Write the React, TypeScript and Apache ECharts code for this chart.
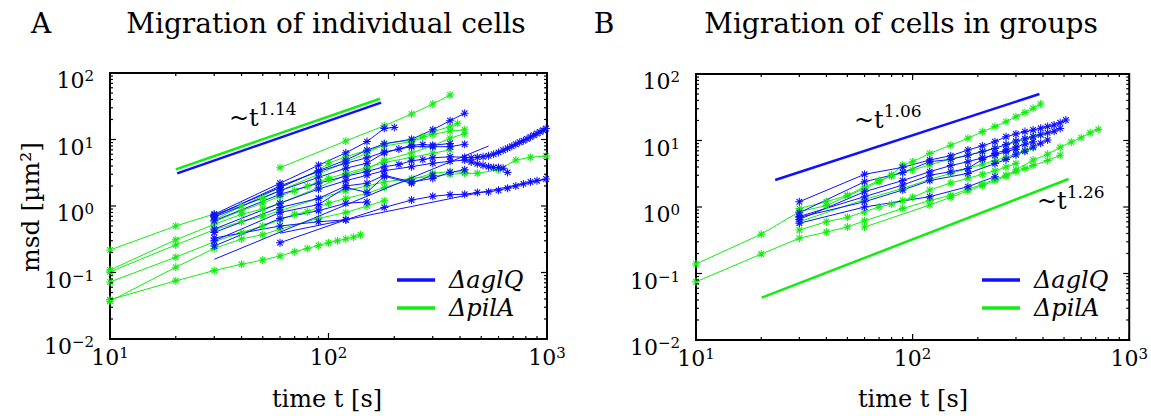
import React, { useEffect, useRef } from 'react';
import * as echarts from 'echarts';

// ---------- Panel A: migration of individual cells ----------
const A_AGLQ_1 = [[30, 0.75], [60, 2.2], [90, 4.1], [120, 6.3], [150, 9.3], [180, 14.7], [200, 15.2]];
const A_AGLQ_2 = [[30, 0.72], [60, 1.9], [90, 3.4], [120, 4.9], [150, 6.9], [180, 8.6], [240, 10.1], [300, 14.0], [360, 19.2], [420, 24.8]];
const A_AGLQ_3 = [[30, 0.68], [60, 1.7], [90, 2.7], [120, 3.7], [150, 4.4], [180, 6.3], [210, 7.2], [240, 8.2], [270, 8.4], [300, 8.2], [360, 8.7]];
const A_AGLQ_4 = [[30, 0.6], [60, 1.5], [90, 2.2], [120, 2.8], [150, 3.3], [180, 3.9], [210, 4.2], [240, 4.8], [270, 5.0], [300, 5.3], [360, 5.5], [420, 5.4], [450, 5.3], [480, 5.4], [510, 5.5], [540, 5.7], [570, 6.0], [600, 6.4], [630, 6.9], [660, 7.4], [690, 7.9], [720, 8.5], [750, 9.1], [780, 9.6], [810, 10.2], [840, 10.9], [870, 11.6], [900, 12.3], [930, 13.0], [960, 13.8], [990, 14.6]];
const A_AGLQ_5 = [[30, 0.45], [60, 1.1], [90, 1.8], [120, 2.4], [150, 2.9], [180, 3.4], [240, 3.9], [300, 4.4], [360, 4.7], [420, 4.9], [450, 4.6], [480, 4.3], [510, 4.1], [540, 3.9], [570, 3.8], [600, 3.8], [630, 3.7], [660, 3.2]];
const A_AGLQ_6 = [[60, 0.28], [120, 0.62], [180, 0.95], [240, 1.23], [300, 1.4], [360, 1.48], [420, 1.5], [480, 1.6], [540, 1.63], [600, 1.72], [660, 1.85], [720, 2.0], [780, 2.15], [840, 2.3], [900, 2.4], [990, 2.55]];
const A_AGLQ_7 = [[30, 0.4], [60, 0.95], [90, 1.3], [120, 2.0], [150, 2.2], [180, 2.9], [240, 2.3], [300, 2.6], [360, 3.2], [420, 3.5]];
const A_AGLQ_8 = [[30, 0.3], [60, 0.8], [90, 1.05], [120, 1.9], [150, 1.6], [180, 2.8], [240, 2.2], [300, 2.9]];
const A_AGLQ_9 = [[30, 0.25], [60, 0.65], [90, 0.85], [120, 1.1], [150, 1.15]];
const A_AGLQ_10 = [[30, 0.33], [60, 0.5], [90, 0.58], [120, 0.62]];
const A_AGLQ_11 = [[30, 0.7], [60, 2.0], [90, 3.3], [120, 4.4], [150, 5.3], [180, 6.5], [240, 7.8], [300, 7.8], [360, 7.8], [420, 8.5]];
const A_AGLQ_FIT_1 = [[30, 0.158], [540, 7.98]];
const A_AGLQ_FIT_2 = [[60, 0.39], [1000, 2.55]];

const A_PILA_1 = [[60, 3.77], [120, 9.5], [180, 16.1], [240, 24.2], [300, 34.2], [360, 46.7]];
const A_PILA_2 = [[10, 0.039], [20, 0.075], [30, 0.107], [40, 0.133], [50, 0.154], [60, 0.177], [70, 0.206], [80, 0.23], [90, 0.255], [100, 0.28], [110, 0.3], [120, 0.32], [130, 0.34], [140, 0.37]];
const A_PILA_3 = [[10, 0.218], [20, 0.5], [30, 0.76], [40, 1.0], [50, 1.3], [60, 1.7], [90, 3.0], [120, 4.6], [150, 6.2], [180, 8.7], [240, 9.8], [270, 11.0], [300, 13.1], [360, 15.6], [390, 17.5]];
const A_PILA_4 = [[10, 0.109], [20, 0.31], [30, 0.53], [40, 0.75], [50, 0.9], [60, 1.1], [90, 1.9], [120, 2.9], [150, 3.6], [180, 4.9], [240, 6.3], [300, 8.0], [360, 10.5], [420, 12.2]];
const A_PILA_5 = [[10, 0.102], [20, 0.26], [30, 0.44], [40, 0.58], [50, 0.7], [60, 0.85], [90, 1.3], [120, 1.7], [150, 2.0], [180, 2.3], [240, 2.6], [300, 2.8], [360, 3.0], [420, 3.1], [480, 3.1], [600, 3.5], [720, 4.9], [840, 5.4], [990, 5.65]];
const A_PILA_6 = [[10, 0.072], [20, 0.17], [30, 0.29], [40, 0.4], [50, 0.5], [60, 0.62], [70, 0.75], [80, 0.82], [90, 0.95], [100, 1.1], [120, 1.3], [150, 1.55], [180, 1.9], [240, 2.5], [300, 3.1], [360, 3.3], [420, 3.2]];
const A_PILA_7 = [[10, 0.037], [20, 0.12], [30, 0.23], [40, 0.32], [50, 0.37], [60, 0.45], [90, 0.65], [120, 0.8], [150, 1.0], [180, 1.2]];
const A_PILA_8 = [[30, 0.58], [40, 0.85], [50, 1.1], [60, 1.4], [70, 1.7], [80, 2.0], [90, 2.3], [100, 2.6], [120, 3.1], [150, 3.8], [180, 4.5], [240, 5.4], [300, 6.2], [360, 7.0]];
const A_PILA_9 = [[30, 0.62], [60, 1.9], [90, 3.4], [100, 4.4], [120, 5.5], [150, 6.9], [180, 8.0], [240, 9.3], [300, 11.9], [360, 13.4], [420, 14.0]];

const A_GUIDE_AGLQ = [[20.3, 3.1], [174, 35.8]];
const A_GUIDE_PILA = [[20, 3.56], [172, 41]];

// ---------- Panel B: migration of cells in groups ----------
const B_AGLQ_1 = [[30, 1.2], [60, 3.1], [90, 3.95], [120, 5.1], [150, 5.9], [180, 7.2], [210, 8.3], [240, 9.6], [270, 11.4], [300, 12.5], [330, 13.6], [360, 14.4], [390, 15.3], [420, 16.2], [450, 17.1], [480, 18.5], [510, 20.3]];
const B_AGLQ_2 = [[30, 0.82], [60, 2.4], [90, 3.3], [120, 4.8], [150, 5.2], [180, 6.0], [210, 6.8], [240, 7.6], [270, 8.7], [300, 9.8], [330, 10.6], [360, 11.4], [390, 12.2], [420, 13.0], [450, 13.8], [480, 15.2]];
const B_AGLQ_3 = [[30, 0.72], [60, 1.43], [90, 2.14], [120, 3.0], [150, 3.4], [180, 3.8], [210, 5.2], [240, 6.4], [270, 7.2], [300, 8.0], [330, 8.8], [360, 9.6]];
const B_AGLQ_4 = [[30, 0.57], [60, 1.0], [120, 1.43], [180, 2.02], [240, 2.86]];
const B_AGLQ_5 = [[30, 0.65], [60, 1.7], [90, 2.5], [120, 3.4], [150, 4.2], [180, 4.8], [210, 5.5], [240, 6.0], [270, 6.8], [300, 7.4]];
const B_AGLQ_6 = [[30, 0.7], [60, 1.2], [90, 1.8], [120, 2.5], [180, 3.2], [240, 4.5], [270, 5.2], [300, 6.1], [330, 6.9], [360, 8.0], [390, 9.1], [420, 10.2]];

const B_PILA_1 = [[10, 0.139], [20, 0.39], [30, 0.85], [40, 1.05], [50, 1.46], [60, 1.9], [70, 2.4], [80, 3.05], [90, 4.3], [100, 4.8], [120, 6.4], [150, 8.5], [180, 10.8], [210, 13.6], [240, 16.2], [270, 19.2], [300, 22.8], [330, 26.3], [360, 30.6], [390, 35.4]];
const B_PILA_2 = [[10, 0.075], [20, 0.196], [30, 0.34], [40, 0.42], [50, 0.5], [60, 0.62], [90, 0.95], [120, 1.25], [150, 1.5], [180, 1.85], [210, 2.2], [240, 2.6], [270, 3.0], [300, 3.6], [360, 5.1], [420, 6.2], [480, 7.9], [540, 9.5], [600, 11.0], [660, 13.1], [720, 14.7]];
const B_PILA_3 = [[60, 0.5], [120, 1.07], [150, 1.4], [180, 1.75], [210, 2.1], [240, 2.5], [270, 2.9], [300, 3.4], [330, 3.8], [360, 4.2], [420, 5.0], [480, 6.0]];
const B_PILA_4 = [[30, 0.95], [40, 1.2], [50, 1.5], [60, 2.0], [70, 2.5], [80, 2.9], [90, 3.3], [100, 3.6], [120, 4.3], [150, 5.3], [180, 6.0], [210, 6.8], [240, 7.7], [270, 8.6], [300, 9.5], [330, 10.4], [360, 11.4], [390, 12.3]];
const B_PILA_5 = [[30, 0.45], [40, 0.6], [50, 0.7], [60, 0.85], [70, 1.0], [80, 1.1], [90, 1.25], [100, 1.4], [120, 1.8], [150, 2.3], [180, 2.7], [210, 3.1], [240, 3.5], [270, 4.0], [300, 4.5]];
const B_PILA_6 = [[30, 0.6], [60, 1.3], [90, 1.9], [120, 2.6], [150, 3.2], [180, 3.8], [210, 4.4], [240, 5.0], [270, 5.6], [300, 6.3], [330, 7.1], [360, 7.8]];

const B_GUIDE_AGLQ = [[23.2, 2.55], [385, 50]];
const B_GUIDE_PILA = [[20.1, 0.0433], [525, 2.64]];

// ---------- Axes ----------
const X_RANGE = [10, 1000];
const Y_RANGE = [0.01, 100];
const X_MAJOR = [10, 100, 1000];
const X_MINOR = [20, 30, 40, 50, 60, 70, 80, 90, 200, 300, 400, 500, 600, 700, 800, 900];
const Y_MAJOR = [0.01, 0.1, 1, 10, 100];
const Y_MINOR = [0.02, 0.03, 0.04, 0.05, 0.06, 0.07, 0.08, 0.09, 0.2, 0.3, 0.4, 0.5, 0.6, 0.7, 0.8, 0.9, 2, 3, 4, 5, 6, 7, 8, 9, 20, 30, 40, 50, 60, 70, 80, 90];

const LABEL_AGLQ = 'ΔaglQ';
const LABEL_PILA = 'ΔpilA';

const BLUE = '#1010ff';
const GREEN = '#10ee10';
const FONT = '"DejaVu Serif", serif';
const STAR = 'path://M-0.13,-1L0.13,-1L0.13,1L-0.13,1ZM-1,-0.13L1,-0.13L1,0.13L-1,0.13ZM-0.6,-0.8L0.8,0.6L0.6,0.8L-0.8,-0.6ZM0.6,-0.8L0.8,-0.6L-0.6,0.8L-0.8,0.6Z';

function dataSeries(name: string, data: number[][], color: string, idx: number) {
  return {
    type: 'line', name, data, xAxisIndex: idx, yAxisIndex: idx,
    symbol: STAR, symbolSize: 8, showSymbol: true, showAllSymbol: true,
    lineStyle: { width: 1, color }, itemStyle: { color }, silent: true, z: 3,
  };
}
function plainLine(name: string, data: number[][], color: string, idx: number, width: number) {
  return {
    type: 'line', name, data, xAxisIndex: idx, yAxisIndex: idx, symbol: 'none',
    lineStyle: { width, color }, silent: true, z: 4,
  };
}
function tickSeries(idx: number) {
  const data: number[][] = [];
  X_MAJOR.forEach((v) => data.push([v, 1, 0]));
  X_MINOR.forEach((v) => data.push([v, 1, 1]));
  Y_MAJOR.forEach((v) => data.push([100, v, 2]));
  Y_MINOR.forEach((v) => data.push([100, v, 3]));
  return {
    type: 'custom', xAxisIndex: idx, yAxisIndex: idx, silent: true, z: 6, data,
    encode: { x: 0, y: 1 },
    renderItem: (_p: any, api: any) => {
      const kind = api.value(2);
      const st = { stroke: '#000', lineWidth: 1.2 };
      if (kind < 2) {
        const v = api.value(0);
        const len = kind === 0 ? 6 : 3;
        const b = api.coord([v, Y_RANGE[0]]);
        const t = api.coord([v, Y_RANGE[1]]);
        return {
          type: 'group', children: [
            { type: 'line', shape: { x1: b[0], y1: b[1], x2: b[0], y2: b[1] - len }, style: st },
            { type: 'line', shape: { x1: t[0], y1: t[1], x2: t[0], y2: t[1] + len }, style: st },
          ],
        };
      }
      const v = api.value(1);
      const len = kind === 2 ? 6 : 3;
      const l = api.coord([X_RANGE[0], v]);
      const r = api.coord([X_RANGE[1], v]);
      return {
        type: 'group', children: [
          { type: 'line', shape: { x1: l[0], y1: l[1], x2: l[0] + len, y2: l[1] }, style: st },
          { type: 'line', shape: { x1: r[0], y1: r[1], x2: r[0] - len, y2: r[1] }, style: st },
        ],
      };
    },
  };
}

const expFmt = (v: number) => {
  const e = Math.round(Math.log10(v));
  return `{b|10}{s|${e < 0 ? '−' + -e : e}}`;
};
const rich = {
  b: { fontSize: 22, fontFamily: FONT, color: '#000', lineHeight: 23, verticalAlign: 'bottom' },
  s: { fontSize: 15, fontFamily: FONT, color: '#000', lineHeight: 15, verticalAlign: 'top' },
};

function xAxis(idx: number) {
  return {
    type: 'log', logBase: 10, gridIndex: idx, min: X_RANGE[0], max: X_RANGE[1],
    axisLine: { show: true, onZero: false, lineStyle: { color: '#000', width: 2 } },
    axisTick: { show: false }, splitLine: { show: false },
    axisLabel: { formatter: expFmt, rich, margin: 6 },
  };
}
function yAxis(idx: number) {
  return {
    type: 'log', logBase: 10, gridIndex: idx, min: Y_RANGE[0], max: Y_RANGE[1],
    axisLine: { show: true, onZero: false, lineStyle: { color: '#000', width: 2 } },
    axisTick: { show: false }, splitLine: { show: false },
    axisLabel: { formatter: expFmt, rich, margin: 16, padding: [14, 0, 0, 0] },
  };
}

function txt(x: number, y: number, text: string, size: number, extra: any = {}) {
  return {
    type: 'text', x, y, silent: true, z: 10,
    style: { text, fontSize: size, fontFamily: FONT, fill: '#000', align: 'center', verticalAlign: 'middle', ...extra },
  };
}
function powerText(x: number, y: number, exp: string) {
  return {
    type: 'text', x, y, silent: true, z: 10,
    style: {
      text: `{a|~t}{b|${exp}}`, align: 'left', verticalAlign: 'middle', fill: '#000',
      rich: {
        a: { fontSize: 24, fontFamily: FONT, lineHeight: 30, verticalAlign: 'bottom' },
        b: { fontSize: 17, fontFamily: FONT, lineHeight: 17, verticalAlign: 'top' },
      },
    },
  };
}
function legendItems(x: number, y: number) {
  return [
    { type: 'line', silent: true, z: 10, shape: { x1: x, y1: y, x2: x + 38, y2: y }, style: { stroke: BLUE, lineWidth: 3.5 } },
    { type: 'line', silent: true, z: 10, shape: { x1: x, y1: y + 28, x2: x + 38, y2: y + 28 }, style: { stroke: GREEN, lineWidth: 3.5 } },
    txt(x + 52, y, LABEL_AGLQ, 24, { align: 'left', fontStyle: 'italic' }),
    txt(x + 52, y + 28, LABEL_PILA, 24, { align: 'left', fontStyle: 'italic' }),
  ];
}

export default function App() {
  const ref = useRef<HTMLDivElement>(null);
  useEffect(() => {
    if (!ref.current) return;
    const chart = echarts.init(ref.current, null, { renderer: 'svg' });
    const aAglq = [A_AGLQ_1, A_AGLQ_2, A_AGLQ_3, A_AGLQ_4, A_AGLQ_5, A_AGLQ_6, A_AGLQ_7, A_AGLQ_8, A_AGLQ_9, A_AGLQ_10, A_AGLQ_11];
    const aPila = [A_PILA_1, A_PILA_2, A_PILA_3, A_PILA_4, A_PILA_5, A_PILA_6, A_PILA_7, A_PILA_8, A_PILA_9];
    const bAglq = [B_AGLQ_1, B_AGLQ_2, B_AGLQ_3, B_AGLQ_4, B_AGLQ_5, B_AGLQ_6];
    const bPila = [B_PILA_1, B_PILA_2, B_PILA_3, B_PILA_4, B_PILA_5, B_PILA_6];
    const series: any[] = [
      ...aPila.map((d) => dataSeries(LABEL_PILA, d, GREEN, 0)),
      ...aAglq.map((d) => dataSeries(LABEL_AGLQ, d, BLUE, 0)),
      plainLine(LABEL_AGLQ, A_AGLQ_FIT_1, BLUE, 0, 1),
      plainLine(LABEL_AGLQ, A_AGLQ_FIT_2, BLUE, 0, 1),
      plainLine(LABEL_AGLQ, A_GUIDE_AGLQ, BLUE, 0, 2.5),
      plainLine(LABEL_PILA, A_GUIDE_PILA, GREEN, 0, 2.5),
      ...bPila.map((d) => dataSeries(LABEL_PILA, d, GREEN, 1)),
      ...bAglq.map((d) => dataSeries(LABEL_AGLQ, d, BLUE, 1)),
      plainLine(LABEL_AGLQ, B_GUIDE_AGLQ, BLUE, 1, 2.5),
      plainLine(LABEL_PILA, B_GUIDE_PILA, GREEN, 1, 2.5),
      tickSeries(0),
      tickSeries(1),
    ];
    chart.setOption({
      animation: false,
      backgroundColor: '#fff',
      grid: [
        { left: 110, top: 73, width: 437, height: 266, show: true, borderColor: '#000', borderWidth: 2, backgroundColor: 'transparent' },
        { left: 696, top: 74, width: 436, height: 266, show: true, borderColor: '#000', borderWidth: 2, backgroundColor: 'transparent' },
      ],
      xAxis: [xAxis(0), xAxis(1)],
      yAxis: [yAxis(0), yAxis(1)],
      series,
      graphic: [
        txt(41, 23, 'A', 28),
        txt(326, 23, 'Migration of individual cells', 28),
        txt(604, 23, 'B', 28),
        txt(901, 23, 'Migration of cells in groups', 28),
        { ...txt(0, 0, 'msd [µm²]', 25), x: 30, y: 207, rotation: Math.PI / 2 },
        txt(327, 399, 'time t [s]', 24),
        txt(913, 399, 'time t [s]', 24),
        powerText(229, 115, '1.14'),
        powerText(854, 117, '1.06'),
        powerText(1037, 198, '1.26'),
        ...legendItems(397, 280),
        ...legendItems(982, 280),
      ],
    });
    return () => chart.dispose();
  }, []);
  return <div ref={ref} style={{ position: 'fixed', left: 0, top: 0, width: 1151, height: 416, background: '#fff' }} />;
}
